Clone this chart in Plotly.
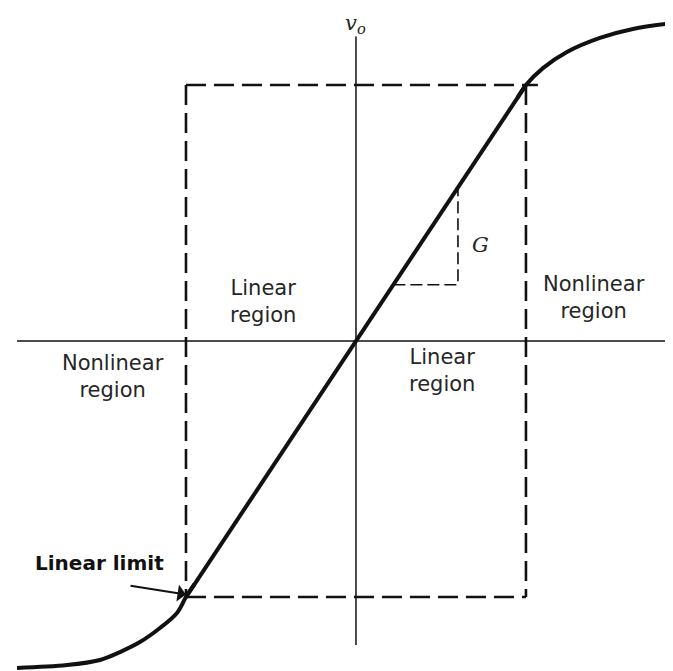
import plotly.graph_objects as go

# transfer characteristic, units: linear limit = +/-1, slope G = 1
v_in_neg = [-1.994, -1.700, -1.506, -1.388, -1.271, -1.153, -1.053, -1.0, -0.95]
v_out_neg = [-1.277, -1.266, -1.246, -1.215, -1.176, -1.121, -1.0625, -1.0, -0.95]
v_in_lin = [-1.0, 0.0, 1.0]
v_out_lin = [-1.0, 0.0, 1.0]
v_in_pos = [0.95, 1.0, 1.100, 1.241, 1.435, 1.629, 1.865]
v_out_pos = [0.95, 1.0, 1.066, 1.129, 1.184, 1.219, 1.242]

limit = 1.0
slope_lo = 0.22
slope_hi = 0.60

region_labels = ["Linear<br>region", "Nonlinear<br>region", "Nonlinear<br>region", "Linear<br>region"]
region_x = [-0.547, -1.43, 1.40, 0.506]
region_y = [0.156, -0.137, 0.172, -0.117]

ink = "#111111"
text_ink = "#262626"

fig = go.Figure()

# axes
fig.add_trace(go.Scatter(x=[-1.994, 1.87], y=[0, 0], mode="lines",
                         line=dict(color=ink, width=1.5), hoverinfo="skip"))
fig.add_trace(go.Scatter(x=[0, 0], y=[-1.1875, 1.19], mode="lines",
                         line=dict(color=ink, width=1.5), hoverinfo="skip"))

# dashed box around the linear region
box_dash = "20px,8px"
fig.add_trace(go.Scatter(x=[-limit, 1.07], y=[limit, limit], mode="lines",
                         line=dict(color=ink, width=2.6, dash=box_dash)))
fig.add_trace(go.Scatter(x=[-limit, limit], y=[-limit, -limit], mode="lines",
                         line=dict(color=ink, width=2.6, dash=box_dash)))
fig.add_trace(go.Scatter(x=[-limit, -limit], y=[limit, -limit], mode="lines",
                         line=dict(color=ink, width=2.6, dash=box_dash)))
fig.add_trace(go.Scatter(x=[limit, limit], y=[limit, -limit], mode="lines",
                         line=dict(color=ink, width=2.6, dash=box_dash)))

# slope triangle
fig.add_trace(go.Scatter(x=[slope_lo, slope_hi, slope_hi], y=[slope_lo, slope_lo, slope_hi],
                         mode="lines", line=dict(color=ink, width=1.6, dash="12px,5px")))

# the characteristic
fig.add_trace(go.Scatter(x=v_in_neg, y=v_out_neg, mode="lines",
                         line=dict(color=ink, width=4, shape="spline", smoothing=1.0)))
fig.add_trace(go.Scatter(x=v_in_lin, y=v_out_lin, mode="lines",
                         line=dict(color=ink, width=4)))
fig.add_trace(go.Scatter(x=v_in_pos, y=v_out_pos, mode="lines",
                         line=dict(color=ink, width=4, shape="spline", smoothing=1.0)))

label_font = dict(family="DejaVu Sans", size=21, color=text_ink)
for txt, x, y in zip(region_labels, region_x, region_y):
    fig.add_annotation(x=x, y=y, text=txt, showarrow=False, font=label_font)

fig.add_annotation(x=0, y=1.24, text="<i>v<sub>o</sub></i>", showarrow=False,
                   font=dict(family="DejaVu Serif", size=21, color=text_ink))
fig.add_annotation(x=0.735, y=0.375, text="<i>G</i>", showarrow=False,
                   font=dict(family="DejaVu Serif", size=21, color=text_ink))

fig.add_annotation(x=-1.506, y=-0.867, text="<b>Linear limit</b>", showarrow=False,
                   font=dict(family="DejaVu Sans", size=20, color="#111111"))
fig.add_annotation(x=-1.0, y=-0.99, ax=-1.335, ay=-0.955, xref="x", yref="y",
                   axref="x", ayref="y", text="", showarrow=True,
                   arrowhead=1, arrowsize=1.4, arrowwidth=2, arrowcolor=ink)

# page body has an 8px margin, so the figure is 8px smaller and ranges start there
fig.update_layout(
    width=665, height=663,
    margin=dict(l=0, r=0, t=0, b=0),
    paper_bgcolor="white", plot_bgcolor="white",
    showlegend=False,
    xaxis=dict(range=[-2.047, 1.865], visible=False, fixedrange=True),
    yaxis=dict(range=[-1.289, 1.301], visible=False, fixedrange=True),
)

fig.write_html("out.html")
